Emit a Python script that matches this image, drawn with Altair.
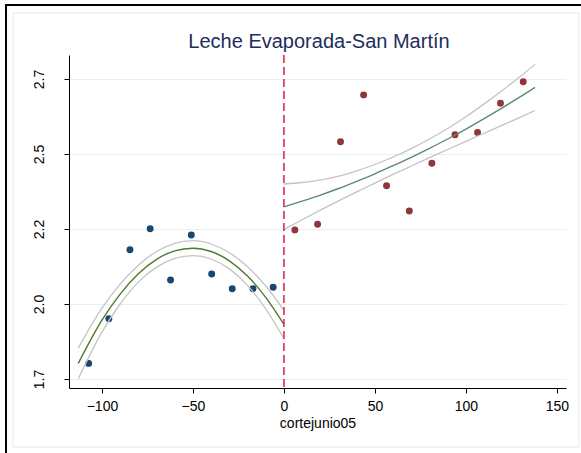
import altair as alt
import pandas as pd

# Bin means of the outcome on each side of the cutoff
left_x = [-107.3, -96.2, -84.6, -73.5, -62.3, -50.9, -39.7, -28.4, -17.0, -5.9]
left_y = [1.802, 1.951, 2.181, 2.251, 2.080, 2.230, 2.100, 2.051, 2.051, 2.056]
right_x = [6.0, 18.5, 31.1, 43.8, 56.4, 68.9, 81.3, 94.0, 106.4, 119.0, 131.5]
right_y = [2.247, 2.266, 2.541, 2.697, 2.394, 2.310, 2.469, 2.564, 2.572, 2.669, 2.741]

# Quadratic fit and its confidence band, left of the cutoff
left_fit_x = [-113, -100, -90, -80, -70, -60, -50, -40, -30, -20, -10, 0]
left_fit_y = [1.802, 1.946, 2.033, 2.101, 2.149, 2.177, 2.186, 2.175, 2.144, 2.093, 2.022, 1.932]
left_hi = [1.853, 1.986, 2.066, 2.129, 2.175, 2.202, 2.211, 2.200, 2.171, 2.124, 2.060, 1.979]
left_lo = [1.751, 1.906, 2.000, 2.073, 2.123, 2.152, 2.161, 2.150, 2.117, 2.062, 1.984, 1.885]

# Quadratic fit and its confidence band, right of the cutoff
right_fit_x = [0, 10, 20, 30, 40, 50, 60, 70, 80, 90, 100, 110, 120, 130, 138]
right_fit_y = [2.324, 2.343, 2.363, 2.385, 2.409, 2.434, 2.461, 2.489, 2.519, 2.550, 2.583, 2.618, 2.654, 2.691, 2.722]
right_hi = [2.400, 2.405, 2.413, 2.426, 2.444, 2.465, 2.490, 2.518, 2.550, 2.585, 2.624, 2.667, 2.712, 2.759, 2.799]
right_lo = [2.248, 2.281, 2.313, 2.344, 2.374, 2.403, 2.432, 2.460, 2.488, 2.515, 2.542, 2.569, 2.596, 2.623, 2.645]

cutoff = [0]
x_ticks = [-100, -50, 0, 50, 100, 150]
y_ticks = [1.75, 2.0, 2.25, 2.5, 2.75]
y_tick_labels = ["1.7", "2.0", "2.2", "2.5", "2.7"]
title_text = ["Leche Evaporada-San Martín"]

FONT = "Liberation Sans"
NAVY = "#1a476f"
MAROON = "#90353b"
GRAY_CI = "#c4c4c4"

pts_left = pd.DataFrame({"x": left_x, "y": left_y})
pts_right = pd.DataFrame({"x": right_x, "y": right_y})
fit_left = pd.DataFrame({"x": left_fit_x, "y": left_fit_y})
fit_right = pd.DataFrame({"x": right_fit_x, "y": right_fit_y})
ci = pd.concat([
    pd.DataFrame({"x": left_fit_x, "y": left_hi, "curve": "left_hi"}),
    pd.DataFrame({"x": left_fit_x, "y": left_lo, "curve": "left_lo"}),
    pd.DataFrame({"x": right_fit_x, "y": right_hi, "curve": "right_hi"}),
    pd.DataFrame({"x": right_fit_x, "y": right_lo, "curve": "right_lo"}),
], ignore_index=True)

label_list = "[" + ",".join(f"'{t}'" for t in y_tick_labels) + "]"

x_scale = alt.Scale(domain=[-118.1, 155.0], nice=False, zero=False)
y_scale = alt.Scale(domain=[1.72, 2.83], nice=False, zero=False)

x_enc = alt.X(
    "x:Q", scale=x_scale, title="cortejunio05",
    axis=alt.Axis(values=x_ticks, format="d", grid=False, labelFontSize=14,
                  labelPadding=6, titleFontSize=14, titleFontWeight="normal",
                  titlePadding=3, titleColor="black"),
)
y_enc = alt.Y(
    "y:Q", scale=y_scale, title=None,
    axis=alt.Axis(values=y_ticks, labelExpr=f"{label_list}[round((datum.value - 1.75) * 4)]",
                  grid=True, gridColor="#e8f0f2", gridWidth=1.2, labelFontSize=14,
                  labelAngle=270, labelAlign="center", labelBaseline="bottom",
                  labelPadding=18),
)

# Graph-region frames drawn around the plot
outer_frame = alt.Chart(pd.DataFrame({"k": [0]})).mark_rect(
    fill=None, stroke="black", strokeWidth=2, clip=False
).encode(x=alt.value(-63), x2=alt.value(530), y=alt.value(-50), y2=alt.value(420))
inner_frame = alt.Chart(pd.DataFrame({"k": [0]})).mark_rect(
    fill=None, stroke="#e3eaec", strokeWidth=1, clip=False
).encode(x=alt.value(-56), x2=alt.value(510), y=alt.value(-42), y2=alt.value(392))

# Chart heading, centred over the plot area
heading = alt.Chart(pd.DataFrame({"t": title_text})).mark_text(
    font=FONT, fontSize=20, color="#1e2d5a", align="center", baseline="alphabetic", clip=False
).encode(text="t:N", x=alt.value(250), y=alt.value(-7))

dots_left = alt.Chart(pts_left).mark_circle(size=48, color=NAVY, opacity=1).encode(x=x_enc, y=y_enc)
dots_right = alt.Chart(pts_right).mark_circle(size=48, color=MAROON, opacity=1).encode(x="x:Q", y="y:Q")

ci_lines = alt.Chart(ci).mark_line(color=GRAY_CI, strokeWidth=1.3, interpolate="monotone").encode(
    x="x:Q", y="y:Q", detail="curve:N"
)
fit_l = alt.Chart(fit_left).mark_line(color="#4f7a28", strokeWidth=1.4, interpolate="monotone").encode(
    x="x:Q", y="y:Q"
)
fit_r = alt.Chart(fit_right).mark_line(color="#5b8a72", strokeWidth=1.4, interpolate="monotone").encode(
    x="x:Q", y="y:Q"
)
cut = alt.Chart(pd.DataFrame({"x": cutoff})).mark_rule(
    color="#dc2a5a", strokeWidth=1.6, strokeDash=[8, 4]
).encode(x="x:Q")

chart = alt.layer(
    inner_frame, outer_frame, heading, dots_left, dots_right, ci_lines, fit_l, fit_r, cut
).properties(
    width=497, height=333,
    autosize=alt.AutoSizeParams(type="none"),
    padding={"left": 69, "top": 55, "right": 15, "bottom": 65},
).configure(
    background="white", font=FONT
).configure_view(
    stroke=None
).configure_axis(
    labelFont=FONT, titleFont=FONT, labelColor="black", domainColor="black",
    tickColor="black", tickSize=5, domainWidth=1, tickWidth=1,
)

chart.save("out.html", embed_options={"renderer": "svg", "actions": False})
